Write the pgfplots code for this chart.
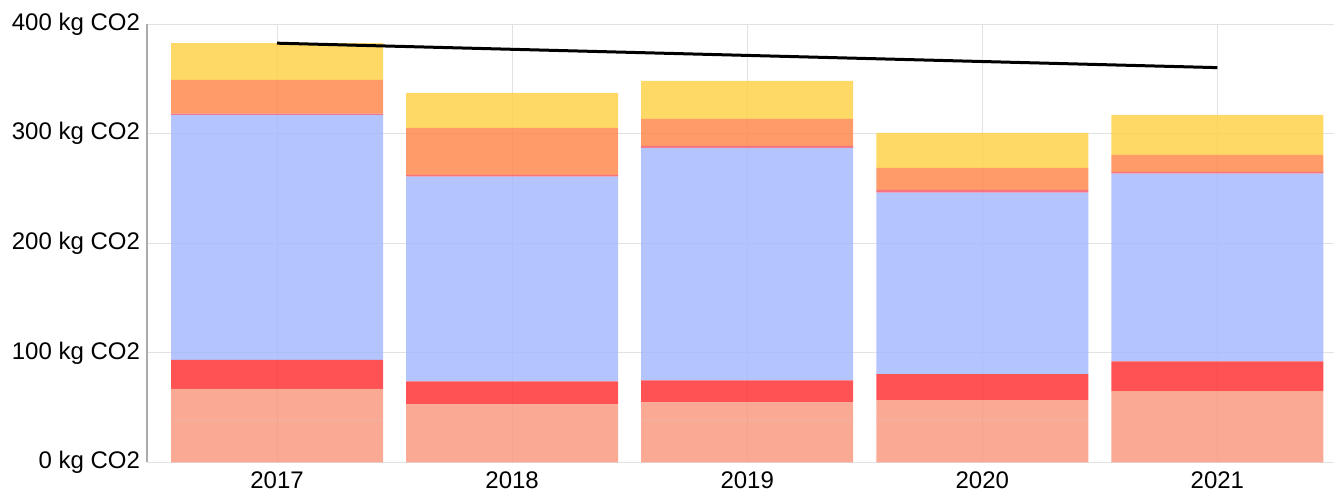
\documentclass[border=0pt]{standalone}
\usepackage{fontspec}
\setmainfont{Liberation Sans}
\usepackage{pgfplots}
\pgfplotsset{compat=1.18}

% colours chosen so that at 85% opacity on white they give the reference tints
\definecolor{csalmon}{RGB}{249,154,129}
\definecolor{csalmonD}{RGB}{236,118,96}
\definecolor{cred}{RGB}{255,52,54}
\definecolor{cpink}{RGB}{245,90,105}
\definecolor{cblue}{RGB}{167,186,251}
\definecolor{corange}{RGB}{255,137,78}
\definecolor{cyellow}{RGB}{255,210,75}
\definecolor{cgrid}{RGB}{226,226,226}

\begin{document}
\begin{tikzpicture}
\pgfplotsset{every axis/.append style={
  scale only axis, width=593.5pt, height=219.25pt,
  xmin=-0.553, xmax=4.496, ymin=0, ymax=400}}
\begin{axis}[
  ybar stacked, bar width=106pt,
  axis lines=left, axis line style={-},
  y axis line style={draw=gray!65, line width=0.7pt},
  x axis line style={draw=cgrid, line width=0.6pt},
  major tick length=0pt,
  grid=major, major grid style={draw=cgrid, line width=0.5pt},
  xtick={0,1,2,3,4}, xticklabels={2017,2018,2019,2020,2021},
  ytick={0,100,200,300,400},
  yticklabels={0 kg CO2,100 kg CO2,200 kg CO2,300 kg CO2,400 kg CO2},
  tick label style={font=\fontsize{12pt}{14pt}\selectfont},
  xticklabel style={yshift=-1pt},
  every axis plot/.append style={fill opacity=0.85, draw=none},
]
\addplot[fill=csalmon] coordinates {(0,37.3)(1,0)(2,37.3)(3,38.2)(4,0)};
\addplot[fill=csalmonD] coordinates {(0,0.9)(1,0)(2,0.9)(3,0.9)(4,0)};
\addplot[fill=csalmon] coordinates {(0,28.9)(1,53.1)(2,16.7)(3,17.9)(4,65.2)};
\addplot[fill=cred] coordinates {(0,26.4)(1,21.0)(2,20.1)(3,23.7)(4,27.1)};
\addplot[fill=cblue] coordinates {(0,223.6)(1,186.7)(2,212.0)(3,165.5)(4,171.2)};
\addplot[fill=cpink] coordinates {(0,1.2)(1,1.5)(2,1.8)(3,2.4)(4,1.5)};
\addplot[fill=corange] coordinates {(0,30.8)(1,42.9)(2,24.6)(3,20.1)(4,15.6)};
\addplot[fill=cyellow] coordinates {(0,33.4)(1,31.9)(2,34.7)(3,31.9)(4,36.4)};
\end{axis}
\begin{axis}[hide axis]
\addplot[black, line width=1.5pt, no marks] coordinates {(0,382.5)(4,360.2)};
\end{axis}
\pgfresetboundingbox
\path (-73.5pt,-14.75pt) rectangle (593.5pt,231.25pt);
\end{tikzpicture}
\end{document}
